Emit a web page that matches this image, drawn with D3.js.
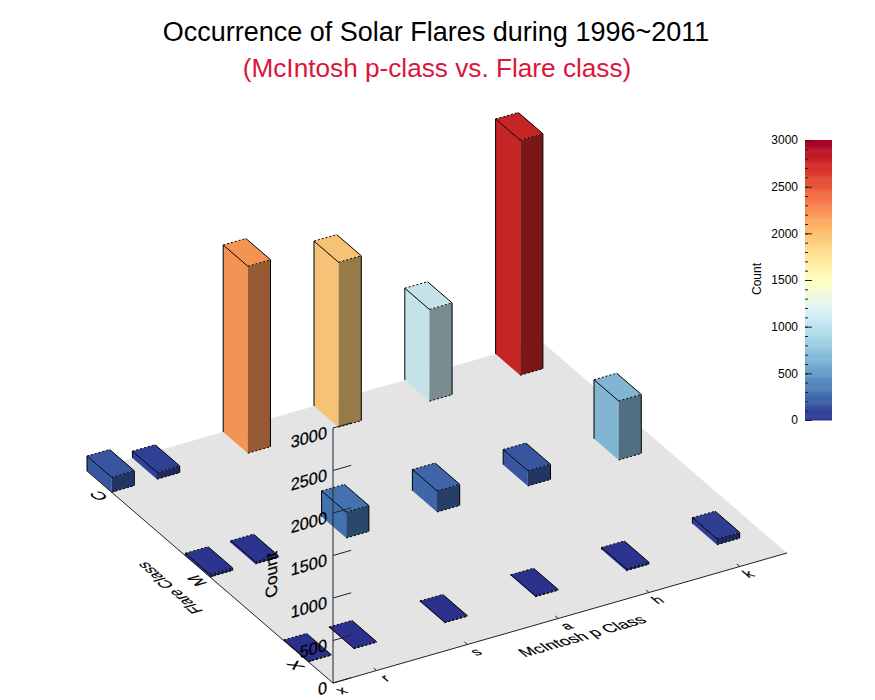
<!DOCTYPE html>
<html><head><meta charset="utf-8">
<script src="https://cdn.jsdelivr.net/npm/d3@7/dist/d3.min.js"></script>
<style>html,body{margin:0;padding:0;background:#fff}svg{display:block}text{font-family:"Liberation Sans",Arial,sans-serif;fill:#000}</style>
</head><body><div id="chart"></div>
<script>
const titleLine1 = "Occurrence of Solar Flares during 1996~2011";
const titleLine2 = "(McIntosh p-class vs. Flare class)";
const pClasses = ["x","r","s","a","h","k"];
const flareClasses = ["X","M","C"];
const countsX = [8,8,8,10,25,70];
const countsM = [30,25,305,250,180,695];
const countsC = [176,80,2200,1940,1080,2765];
const zTicks = [0,500,1000,1500,2000,2500,3000];
const colorStops = ["#2a2f8f","#4575b4","#74add1","#abd9e9","#e0f3f8","#ffffbf","#fee090","#fdae61","#f46d43","#d73027","#a50026"];

const W=875,H=700;
const svg=d3.select("#chart").append("svg").attr("width",W).attr("height",H);
const ox=333, oy=683;
const axX=d3.scaleLinear().domain([0,5]).range([0,454]);
const axY=d3.scaleLinear().domain([0,5]).range([0,-130]);
const bxX=d3.scaleLinear().domain([0,2.5]).range([0,-246]);
const bxY=d3.scaleLinear().domain([0,2.5]).range([0,-212]);
const zY=d3.scaleLinear().domain([0,3000]).range([0,-255]);
const P=(a,b,z=0)=>[ox+axX(a)+bxX(b), oy+axY(a)+bxY(b)+zY(z)];
const color=d3.scaleLinear().domain(colorStops.map((_,i)=>i*300)).range(colorStops);
const poly=d=>d.map(p=>p.join(",")).join(" ");
const shade=(c,k)=>{const r=d3.rgb(c);return d3.rgb(r.r*k,r.g*k,r.b*k).formatRgb();};

// floor
svg.append("polygon").attr("points",poly([P(0,0),P(5,0),P(5,2.5),P(0,2.5)])).attr("fill","#e4e4e4");

// bars, back to front
const colA=i=>i===0?0:i-0.5;
const tickA=i=>i===0?0:i-0.52;
const rowB=j=>j+0.25;
const bw=0.25;
const rows=[countsX,countsM,countsC];
const barG=svg.append("g");
for(let j=2;j>=0;j--){
  for(let i=5;i>=0;i--){
    const v=rows[j][i], a0=colA(i), a1=a0+bw, b0=rowB(j), b1=b0+bw;
    const c=shade(color(v),.97), dark=shade(color(v),.6);
    const g=barG.append("g");
    const L0=P(a0,b1),Fr0=P(a0,b0),R0=P(a1,b0);
    const L1=P(a0,b1,v),Fr1=P(a0,b0,v),R1=P(a1,b0,v),B1=P(a1,b1,v);
    g.append("polygon").attr("points",poly([L0,Fr0,Fr1,L1])).attr("fill",c);
    g.append("polygon").attr("points",poly([Fr0,R0,R1,Fr1])).attr("fill",dark);
    g.append("polygon").attr("points",poly([L1,Fr1,R1,B1])).attr("fill",c);
    const line=(p,q,dash)=>g.append("line").attr("x1",p[0]).attr("y1",p[1]).attr("x2",q[0]).attr("y2",q[1])
      .attr("stroke","#000").attr("stroke-width",1).attr("stroke-dasharray",dash?"2 2":null);
    line(L0,L1); line(R0,R1); line(L1,Fr1); line(R1,B1);
    line(L1,B1,true); line(Fr1,R1,true); line(Fr0,R0,true);
  }
}

// axes
const axG=svg.append("g").attr("stroke","#222").attr("stroke-width",1).attr("fill","none");
const seg=(p,q)=>axG.append("line").attr("x1",p[0]).attr("y1",p[1]).attr("x2",q[0]).attr("y2",q[1]);
seg(P(0,0),P(5,0)); seg(P(0,0),P(0,2.5)); seg(P(0,0),P(0,0,3000));
zTicks.forEach(t=>seg(P(0,0,t),P(.2,0,t)));
pClasses.forEach((_,i)=>{ if(i) seg(P(tickA(i),0),P(tickA(i),.03)); });
flareClasses.forEach((_,j)=>seg(P(0,rowB(j)),P(.04,rowB(j))));

// 3-D plane text: basis vectors for baseline and glyph-down direction
const norm=v=>{const l=Math.hypot(v[0],v[1]);return [v[0]/l,v[1]/l];};
const uA=norm([axX(1),axY(1)]), uB=norm([bxX(1),bxY(1)]);
function t3(str,p,base,down,size,sy=1){
  svg.append("text").text(str).attr("font-size",size).attr("text-anchor","middle").attr("dy",".35em")
    .attr("stroke","#000").attr("stroke-width",.2)
    .attr("transform",`matrix(${base[0]},${base[1]},${down[0]*sy},${down[1]*sy},${p[0]},${p[1]})`);
}
const downFront=[-uB[0],-uB[1]];
pClasses.forEach((s,i)=>t3(s,P(tickA(i),-.085),uA,downFront,15,.95));
t3("McIntosh p Class",P(2.51,-.215),uA,downFront,16.7,.95);
flareClasses.forEach((s,j)=>t3(s,P(-.143,rowB(j)),uB,uA,17,1));
t3("Flare Class",P(-.44,1.255),uB,uA,15,1.1);
zTicks.forEach(t=>{
  const p=P(0,0,t);
  svg.append("text").text(String(t)).attr("font-size",17).attr("text-anchor","end").attr("dy",".35em")
    .attr("stroke","#000").attr("stroke-width",.25)
    .attr("transform",`matrix(${uA[0]},${uA[1]},0,1,${p[0]-6},${p[1]+4})`);
});
svg.append("text").text("Count").attr("font-size",17).attr("text-anchor","middle").attr("dy",".35em")
  .attr("stroke","#000").attr("stroke-width",.25)
  .attr("transform",`matrix(0,-1,${uA[0]},${uA[1]},271,575)`);

// titles
svg.append("text").text(titleLine1).attr("x",436).attr("y",41).attr("text-anchor","middle").attr("font-size",27);
svg.append("text").text(titleLine2).attr("x",437).attr("y",77).attr("text-anchor","middle").attr("font-size",26.2).style("fill","#dc143c");

// colorbar
const cbX=805,cbW=27;
const cbY=d3.scaleLinear().domain([0,3000]).range([420,140]);
const cb=svg.append("g");
cb.selectAll("rect").data(d3.range(0,3000,10)).join("rect")
  .attr("x",cbX).attr("width",cbW).attr("y",d=>cbY(d+10)).attr("height",d=>cbY(d)-cbY(d+10)+.5).attr("fill",d=>color(d+5));
const minor=d3.axisLeft(cbY).tickValues(d3.range(0,3001,100)).tickSize(-3).tickFormat("");
const major=d3.axisLeft(cbY).tickValues(zTicks).tickSize(-7).tickPadding(7).tickFormat(d3.format("d"));
const gm=svg.append("g").attr("transform",`translate(${cbX},0)`).call(minor);
gm.select(".domain").remove(); gm.selectAll("line").attr("stroke","#222");
const gM=svg.append("g").attr("transform",`translate(${cbX},0)`).call(major);
gM.select(".domain").remove(); gM.selectAll("line").attr("stroke","#222");
gM.selectAll("text").attr("font-size",12).attr("font-family",'"Liberation Sans",Arial,sans-serif');
svg.append("text").text("Count").attr("font-size",12).attr("text-anchor","middle")
  .attr("transform","translate(761,279) rotate(-90)");
</script></body></html>
